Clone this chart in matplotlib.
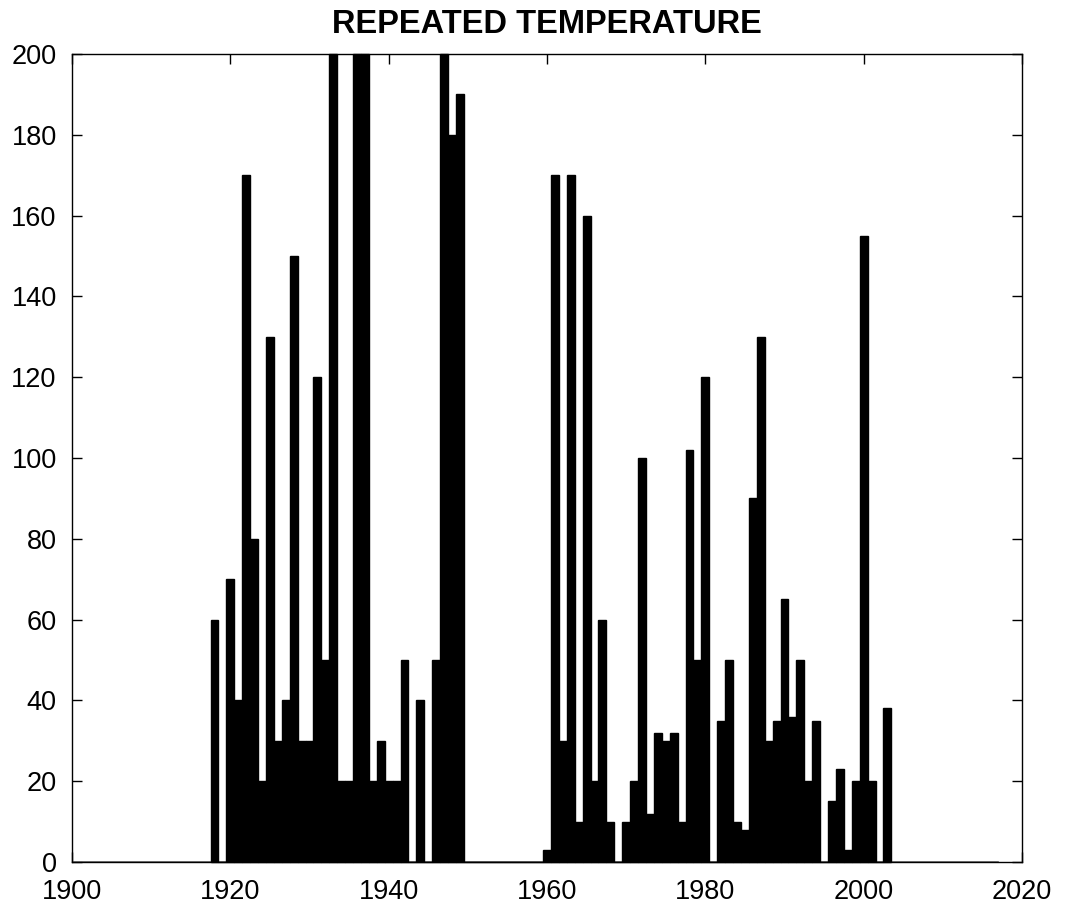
import matplotlib
matplotlib.use("Agg")
import matplotlib.pyplot as plt

# ---- data ----
years = list(range(1918, 2004))
values = [
    60, 0, 70, 40, 170, 80, 20, 130, 30, 40,      # 1918-1927
    150, 30, 30, 120, 50, 200, 20, 20, 200, 200,  # 1928-1937
    20, 30, 20, 20, 50, 0, 40, 0, 50, 200,        # 1938-1947
    180, 190,                                     # 1948-1949
    0, 0, 0, 0, 0, 0, 0, 0, 0, 0,                 # 1950-1959
    3, 170, 30, 170, 10, 160, 20, 60, 10, 0,      # 1960-1969
    10, 20, 100, 12, 32, 30, 32, 10, 102, 50,     # 1970-1979
    120, 0, 35, 50, 10, 8, 90, 130, 30, 35,       # 1980-1989
    65, 36, 50, 20, 35, 0, 15, 23, 3, 20,         # 1990-1999
    155, 20, 0, 38,                               # 2000-2003
]
x_ticks = [1900, 1920, 1940, 1960, 1980, 2000, 2020]
y_ticks = list(range(0, 201, 20))
title = "REPEATED TEMPERATURE"

plt.rcParams['font.family'] = ['Liberation Sans', 'DejaVu Sans']

fig = plt.figure(figsize=(10.65, 9.17), dpi=100)
ax = fig.add_axes([0.0676, 0.06, 0.8920, 0.881])

ax.bar(years, values, width=1.0, color='black', edgecolor='black',
       linewidth=1.0, align='center', clip_on=False, zorder=3)
ax.plot([1900, 2017], [0, 0], color='#666666', linewidth=1.2, zorder=2)

ax.set_xlim(1900, 2020)
ax.set_ylim(0, 200)
ax.set_xticks(x_ticks)
ax.set_yticks(y_ticks)
ax.tick_params(direction='in', length=7, width=1, top=True, right=True,
               labelsize=19.5)
ax.tick_params(axis='x', pad=12)
ax.tick_params(axis='y', pad=11)
for s in ax.spines.values():
    s.set_linewidth(1.0)
    s.set_color('black')

ax.set_title(title, fontsize=23.5, fontweight='bold', pad=15)

fig.savefig("out.png", dpi=100)
